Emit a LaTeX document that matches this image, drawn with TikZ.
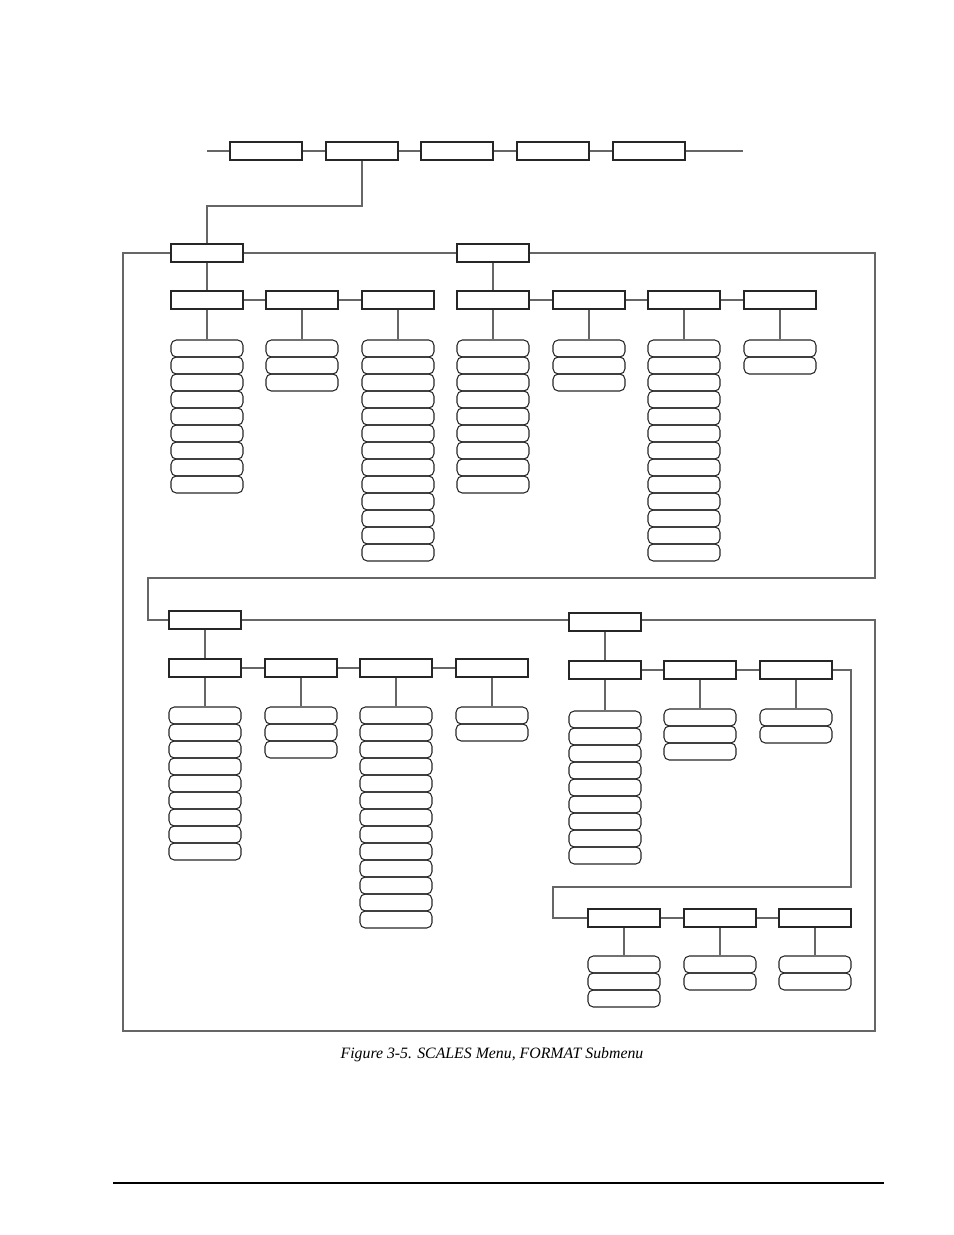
\documentclass[tikz,border=0pt]{standalone}
\usepackage{fontspec}
\setmainfont{Liberation Serif}
\tikzset{
  menubox/.style={draw=black!85, line width=0.7pt, minimum width=1.44cm, minimum height=0.36cm, inner sep=0pt},
  itembox/.style={draw=black!85, line width=0.6pt, rounded corners=3pt, minimum width=1.44cm, minimum height=0.34cm, inner sep=0pt},
  link/.style={draw=black!60, line width=0.7pt}
}
% a column of choices hanging below a menu box
\newcommand{\itemlist}[4]{%
  \foreach \i in {1,...,#4}
    \node[itembox] (#1-\i) at (#2,{#3+8.5+(\i-1)*17}) {};
  \draw[link] (#1.south) -- (#1-1.north);}
\begin{document}
\begin{tikzpicture}[x=0.02cm, y=-0.02cm]
    \useasboundingbox (0,0) rectangle (954,1235);
    % top level
    \draw[link] (207,151) -- (743,151);
    \foreach \x [count=\k] in {266,362,457,553,649}
        \node[menubox, fill=white] (top\k) at (\x,151) {};
    % outer frame
    \draw[link] (123,253) -- (875,253) -- (875,578) -- (148,578) -- (148,620) -- (875,620) -- (875,1031) -- (123,1031) -- cycle;
    \node[menubox, fill=white] (grpA) at (207,253) {};
    \node[menubox, fill=white] (grpB) at (493,253) {};
    \node[menubox, fill=white] (grpC) at (205,620) {};
    \node[menubox, fill=white] (grpD) at (605,622) {};
    \draw[link] (top2.south) |- (207,206) -- (grpA.north);
    % group A
    \foreach \x/\n [count=\k] in {207/9,302/3,398/13}
        \node[menubox] (a\k) at (\x,300) {};
    \draw[link] (grpA) -- (a1) (a1) -- (a2) (a2) -- (a3);
    \itemlist{a1}{207}{340}{9}
    \itemlist{a2}{302}{340}{3}
    \itemlist{a3}{398}{340}{13}
    % group B
    \foreach \x [count=\k] in {493,589,684,780}
        \node[menubox] (b\k) at (\x,300) {};
    \draw[link] (grpB) -- (b1) (b1) -- (b2) (b2) -- (b3) (b3) -- (b4);
    \itemlist{b1}{493}{340}{9}
    \itemlist{b2}{589}{340}{3}
    \itemlist{b3}{684}{340}{13}
    \itemlist{b4}{780}{340}{2}
    % group C
    \foreach \x [count=\k] in {205,301,396,492}
        \node[menubox] (c\k) at (\x,668) {};
    \draw[link] (grpC) -- (c1) (c1) -- (c2) (c2) -- (c3) (c3) -- (c4);
    \itemlist{c1}{205}{707}{9}
    \itemlist{c2}{301}{707}{3}
    \itemlist{c3}{396}{707}{13}
    \itemlist{c4}{492}{707}{2}
    % group D
    \foreach \x [count=\k] in {605,700,796}
        \node[menubox] (d\k) at (\x,670) {};
    \draw[link] (grpD) -- (d1) (d1) -- (d2) (d2) -- (d3);
    \itemlist{d1}{605}{711}{9}
    \itemlist{d2}{700}{709}{3}
    \itemlist{d3}{796}{709}{2}
    \foreach \x [count=\k] in {624,720,815}
        \node[menubox] (e\k) at (\x,918) {};
    \draw[link] (d3.east) -- (851,670) -- (851,887) -- (553,887) |- (e1.west);
    \draw[link] (e1) -- (e2) (e2) -- (e3);
    \itemlist{e1}{624}{956}{3}
    \itemlist{e2}{720}{956}{2}
    \itemlist{e3}{815}{956}{2}
    \node[font=\itshape\small] (caption) at (492,1055) {Figure 3-5. SCALES Menu, FORMAT Submenu};
    \draw[line width=0.6pt] (113,1183) -- (884,1183);
\end{tikzpicture}
\end{document}
